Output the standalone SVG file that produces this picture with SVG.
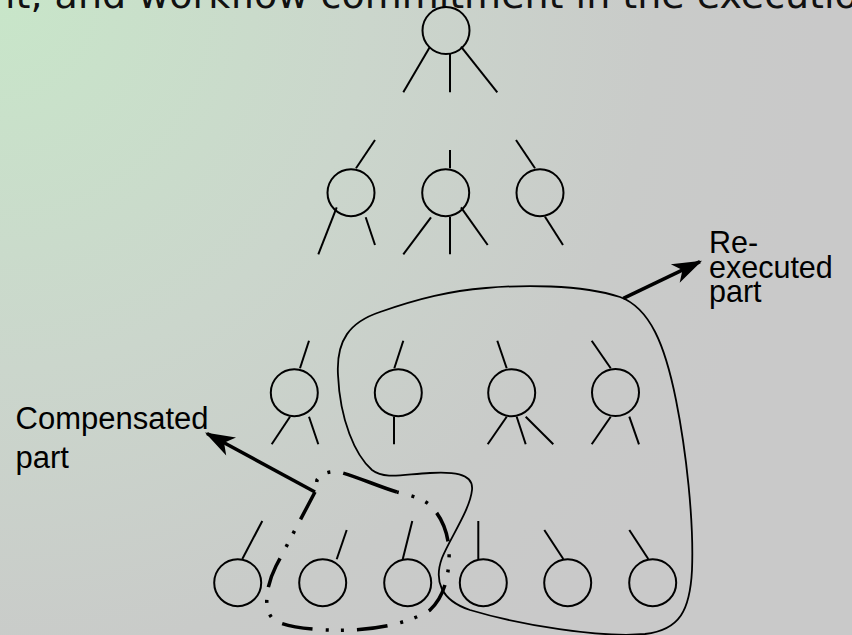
<svg xmlns="http://www.w3.org/2000/svg" width="852" height="635" viewBox="0 0 852 635">
<defs>
<radialGradient id="bg" gradientUnits="userSpaceOnUse" cx="0" cy="0" r="820">
<stop offset="0" stop-color="#c8e6c9"/>
<stop offset="0.45" stop-color="#cbd6cc"/>
<stop offset="0.8" stop-color="#c9cbc9"/>
<stop offset="1" stop-color="#c9c9c9"/>
</radialGradient>
<marker id="ah" markerUnits="userSpaceOnUse" orient="auto" markerWidth="40" markerHeight="40" refX="0" refY="0" viewBox="-30 -15 35 30" overflow="visible">
<path d="M2,0 L-24,-9 L-17,0 L-24,9 Z" fill="#000"/>
</marker>
<style>
.n circle{fill:none;stroke:#000;stroke-width:2}
.n line{stroke:#000;stroke-width:2}
.lbl{font-family:"Liberation Sans",Arial,sans-serif;fill:#000}
.region{fill:none;stroke:#000;stroke-width:1.8}
.comp{fill:none;stroke:#000;stroke-width:3.5;stroke-dasharray:31 13 3 12 3 13}
.arrow{fill:none;stroke:#000;stroke-width:3.5}
</style>
</defs>
<rect x="0" y="0" width="852" height="635" fill="url(#bg)"/>
<text x="5" y="8" font-family="DejaVu Sans, Verdana, sans-serif" font-size="38" fill="#111">it, and workflow commitment in the execution</text>

<g id="n0" class="n"><circle cx="446" cy="30.5" r="23.5"/><line x1="430" y1="46.7" x2="403.3" y2="92.3"/><line x1="450" y1="54" x2="450" y2="92.3"/><line x1="461" y1="46.7" x2="497.3" y2="92.3"/></g>

<g id="n1" class="n"><circle cx="351" cy="192.7" r="23.5"/><line x1="356" y1="168.3" x2="375" y2="140"/><line x1="336.7" y1="207.3" x2="318.3" y2="254.3"/><line x1="365.7" y1="217.3" x2="375" y2="245"/></g>
<g id="n2" class="n"><circle cx="445.7" cy="192.7" r="23.5"/><line x1="450" y1="150" x2="450" y2="168.3"/><line x1="431" y1="217.3" x2="403.3" y2="254.3"/><line x1="450" y1="217" x2="450" y2="254.3"/><line x1="461" y1="207.3" x2="487.7" y2="245"/></g>
<g id="n3" class="n"><circle cx="540" cy="192.7" r="23.5"/><line x1="516" y1="140" x2="535" y2="168.3"/><line x1="545" y1="216.7" x2="563" y2="245"/></g>

<g id="n4" class="n"><circle cx="294.3" cy="392.7" r="23.5"/><line x1="300" y1="368.3" x2="309" y2="340.7"/><line x1="290" y1="416.7" x2="271.7" y2="444.3"/><line x1="309" y1="416.7" x2="318.3" y2="444.3"/></g>
<g id="n5" class="n"><circle cx="398.3" cy="392.7" r="23.5"/><line x1="394.3" y1="368.3" x2="403.3" y2="340.7"/><line x1="394" y1="416.7" x2="394" y2="444.3"/></g>
<g id="n6" class="n"><circle cx="511.7" cy="392.7" r="23.5"/><line x1="506.7" y1="368.3" x2="497.3" y2="340.7"/><line x1="506.7" y1="416.7" x2="487.7" y2="444.3"/><line x1="516.7" y1="416.7" x2="525.7" y2="444.3"/><line x1="525.7" y1="416.7" x2="553.3" y2="444.3"/></g>
<g id="n7" class="n"><circle cx="615.5" cy="392.5" r="23.5"/><line x1="610.7" y1="368.3" x2="591.7" y2="340.7"/><line x1="610.7" y1="416.7" x2="591.7" y2="444.3"/><line x1="629.3" y1="416.7" x2="639" y2="444.3"/></g>

<g id="n8" class="n"><circle cx="237.7" cy="582.7" r="23.5"/><line x1="242.3" y1="559" x2="262.3" y2="521"/></g>
<g id="n9" class="n"><circle cx="322.7" cy="582.7" r="23.5"/><line x1="336.7" y1="559.3" x2="346.7" y2="530"/></g>
<g id="n10" class="n"><circle cx="407.7" cy="582.7" r="23.5"/><line x1="402.7" y1="559.3" x2="412.3" y2="521"/></g>
<g id="n11" class="n"><circle cx="483.3" cy="582.7" r="23.5"/><line x1="478.3" y1="559.3" x2="478.3" y2="521"/></g>
<g id="n12" class="n"><circle cx="567.7" cy="582.7" r="23.5"/><line x1="563.3" y1="559" x2="544.3" y2="530"/></g>
<g id="n13" class="n"><circle cx="652.7" cy="582.7" r="23.5"/><line x1="648.3" y1="559" x2="629.3" y2="530"/></g>

<g id="connectors">
<path class="region" d="M486,288 C520,285 580,284 620,297 C650,308 665,345 676,400 C686,450 694,520 692,570 C690,610 680,630 645,634 C600,638 520,625 470,610 C440,600 434,580 442,558 C450,538 470,510 472,490 C474,472 450,472 430,473 C405,474 385,480 372,470 C355,455 340,420 338,375 C336,340 350,322 380,312 C420,298 450,291 486,288 Z"/>
<path class="comp" d="M315,492 L276,566 C268,582 262,605 272,618 C282,628 320,631 350,630 C385,629 415,620 430,610 C443,598 448,580 449,560 C450,540 445,520 430,505 C420,497 405,494 397,492"/>
<path class="comp" style="stroke-dasharray:57 13 3 12 3 100" d="M397,492 C380,487 360,478 343,473 C333,470 322,472 317,480 L315,492"/>
<line class="arrow" x1="315" y1="492" x2="207" y2="433.5" marker-end="url(#ah)"/>
<line class="arrow" x1="623.3" y1="298.3" x2="700" y2="261.7" marker-end="url(#ah)"/>
</g>

<text class="lbl" font-size="30.5" x="709" y="253.3">Re-</text>
<text class="lbl" font-size="30.5" x="709" y="278.3">executed</text>
<text class="lbl" font-size="30.5" x="709" y="301.7">part</text>
<text class="lbl" font-size="31" x="15.5" y="429.3">Compensated</text>
<text class="lbl" font-size="31" x="15.5" y="467.7">part</text>
</svg>
